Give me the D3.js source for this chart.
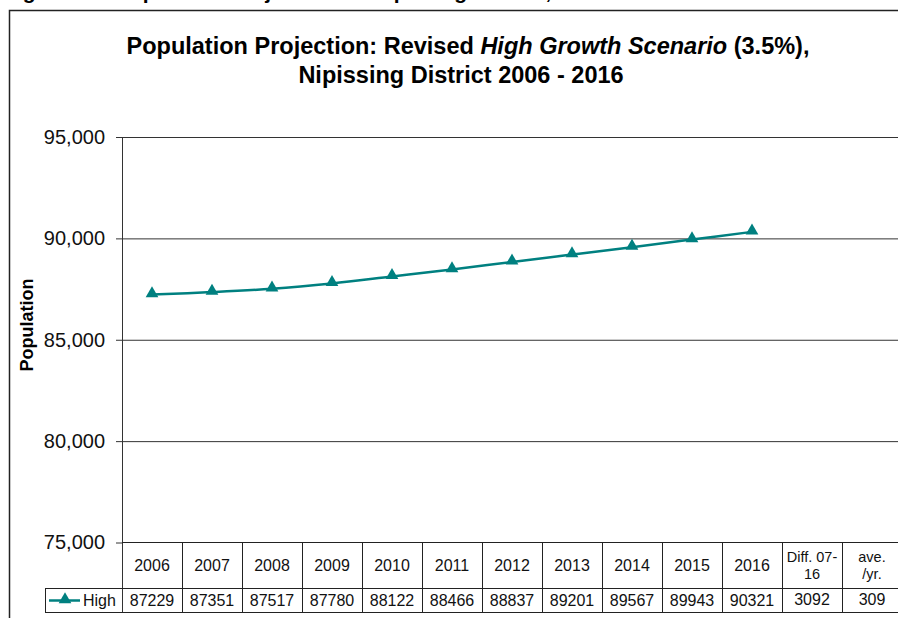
<!DOCTYPE html>
<html>
<head>
<meta charset="utf-8">
<script src="https://cdn.jsdelivr.net/npm/d3@7"></script>
<style>
  html, body { margin: 0; padding: 0; background: #fff; }
  svg { display: block; font-family: "Liberation Sans", Arial, sans-serif; }
</style>
</head>
<body>
<svg id="chart" width="898" height="618"></svg>
<script>
// Projected population, high growth scenario
const years = ["2006", "2007", "2008", "2009", "2010", "2011", "2012", "2013", "2014", "2015", "2016"];
const highValues = [87229, 87351, 87517, 87780, 88122, 88466, 88837, 89201, 89567, 89943, 90321];
// Summary columns appended to the data table
const summaryKeys = ["diff", "ave"];
const summaryHeaders = [["Diff. 07-", "16"], ["ave.", "/yr."]];
const summaryValues = [3092, 309];
const yTicks = [75000, 80000, 85000, 90000, 95000];
const seriesName = "High";

const teal = "#008080";
const FONT = "'Liberation Sans', Arial, sans-serif";
const svg = d3.select("#chart");

// Figure caption (runs off the top of the page)
svg.append("text")
  .attr("x", 4).attr("y", -1)
  .attr("font-size", 21).attr("font-weight", "bold")
  .text("Figure 4.1: Population Projection for Nipissing District, 2006 - 2016");

// Chart frame
svg.append("path")
  .attr("d", "M9.5,620V10.5H900")
  .attr("fill", "none").attr("stroke", "#222").attr("stroke-width", 1.5);

// Title
const title = svg.append("text")
  .attr("text-anchor", "middle").attr("font-size", 23.5).attr("font-weight", "bold");
const t1 = title.append("tspan").attr("x", 468).attr("y", 54);
t1.append("tspan").text("Population Projection: Revised ");
t1.append("tspan").attr("font-style", "italic").text("High Growth Scenario");
t1.append("tspan").text(" (3.5%),");
title.append("tspan").attr("x", 461).attr("y", 83).text("Nipissing District 2006 - 2016");

// Scales
const x = d3.scaleBand().domain(years.concat(summaryKeys)).range([122, 902]);
const y = d3.scaleLinear().domain([75000, 95000]).range([542.5, 137]);

// Gridlines
svg.append("g")
  .attr("transform", "translate(122,0)")
  .call(d3.axisLeft(y).tickValues(yTicks.slice(1)).tickSize(-780).tickFormat(""))
  .call(g => g.select(".domain").remove())
  .call(g => g.selectAll("line").attr("stroke", "#333").attr("stroke-width", 1));

// Y axis
svg.append("g")
  .attr("transform", "translate(122,0)")
  .call(d3.axisLeft(y).tickValues(yTicks).tickSize(6).tickPadding(11).tickFormat(d3.format(",")))
  .call(g => g.select(".domain").remove())
  .call(g => g.selectAll("line").attr("stroke", "#333"))
  .call(g => g.selectAll("text").attr("font-size", 20).attr("fill", "#111").attr("font-family", FONT));

svg.append("line")
  .attr("x1", 122.5).attr("x2", 122.5).attr("y1", y(95000)).attr("y2", 612)
  .attr("stroke", "#333");

// Axis title
svg.append("text")
  .attr("transform", "translate(33,325) rotate(-90)")
  .attr("text-anchor", "middle").attr("font-size", 18).attr("font-weight", "bold")
  .text("Population");

// Series line and markers
const cx = d => x(d) + x.bandwidth() / 2;
const pts = years.map((yr, i) => [cx(yr), y(highValues[i])]);
svg.append("path")
  .attr("d", d3.line().curve(d3.curveCatmullRom.alpha(0.5))(pts))
  .attr("fill", "none").attr("stroke", teal).attr("stroke-width", 2.5);
svg.append("g").selectAll("path").data(pts).join("path")
  .attr("transform", d => `translate(${d[0]},${d[1] - 1})`)
  .attr("d", d3.symbol(d3.symbolTriangle, 70))
  .attr("fill", teal);

// Data table
const tHead = 542.5, tMid = 588.5, tBot = 612.5;
const tbl = svg.append("g").attr("stroke", "#222").attr("stroke-width", 1);
tbl.append("line").attr("x1", 122).attr("x2", 902).attr("y1", tHead).attr("y2", tHead);
tbl.append("line").attr("x1", 45).attr("x2", 902).attr("y1", tMid).attr("y2", tMid);
tbl.append("line").attr("x1", 45).attr("x2", 902).attr("y1", tBot).attr("y2", tBot);
tbl.append("line").attr("x1", 45.5).attr("x2", 45.5).attr("y1", tMid).attr("y2", tBot);
tbl.selectAll(".sep").data(x.domain().slice(1)).join("line")
  .attr("x1", d => Math.round(x(d)) + 0.5).attr("x2", d => Math.round(x(d)) + 0.5)
  .attr("y1", tHead).attr("y2", tBot);

const hdr = svg.append("g").attr("text-anchor", "middle").attr("fill", "#111");
hdr.selectAll(".yr").data(years).join("text")
  .attr("x", cx).attr("y", 571).attr("font-size", 16).text(d => d);
hdr.selectAll(".sum").data(summaryKeys).join("text")
  .attr("font-size", 14.5)
  .each(function (k, i) {
    d3.select(this).selectAll("tspan").data(summaryHeaders[i]).join("tspan")
      .attr("x", cx(k)).attr("y", (d, j) => 562 + j * 17).text(d => d);
  });

const row = svg.append("g").attr("text-anchor", "middle").attr("font-size", 16).attr("fill", "#111");
row.selectAll(".v").data(years).join("text")
  .attr("x", cx).attr("y", 606).text((d, i) => highValues[i]);
row.selectAll(".s").data(summaryKeys).join("text")
  .attr("x", cx).attr("y", 605).text((d, i) => summaryValues[i]);

// Legend key
svg.append("line").attr("x1", 49).attr("x2", 80).attr("y1", 600.5).attr("y2", 600.5)
  .attr("stroke", teal).attr("stroke-width", 2.5);
svg.append("path").attr("transform", "translate(65,599.5)")
  .attr("d", d3.symbol(d3.symbolTriangle, 70)).attr("fill", teal);
svg.append("text").attr("x", 83).attr("y", 606).attr("font-size", 16).attr("fill", "#111")
  .text(seriesName);
</script>
</body>
</html>
